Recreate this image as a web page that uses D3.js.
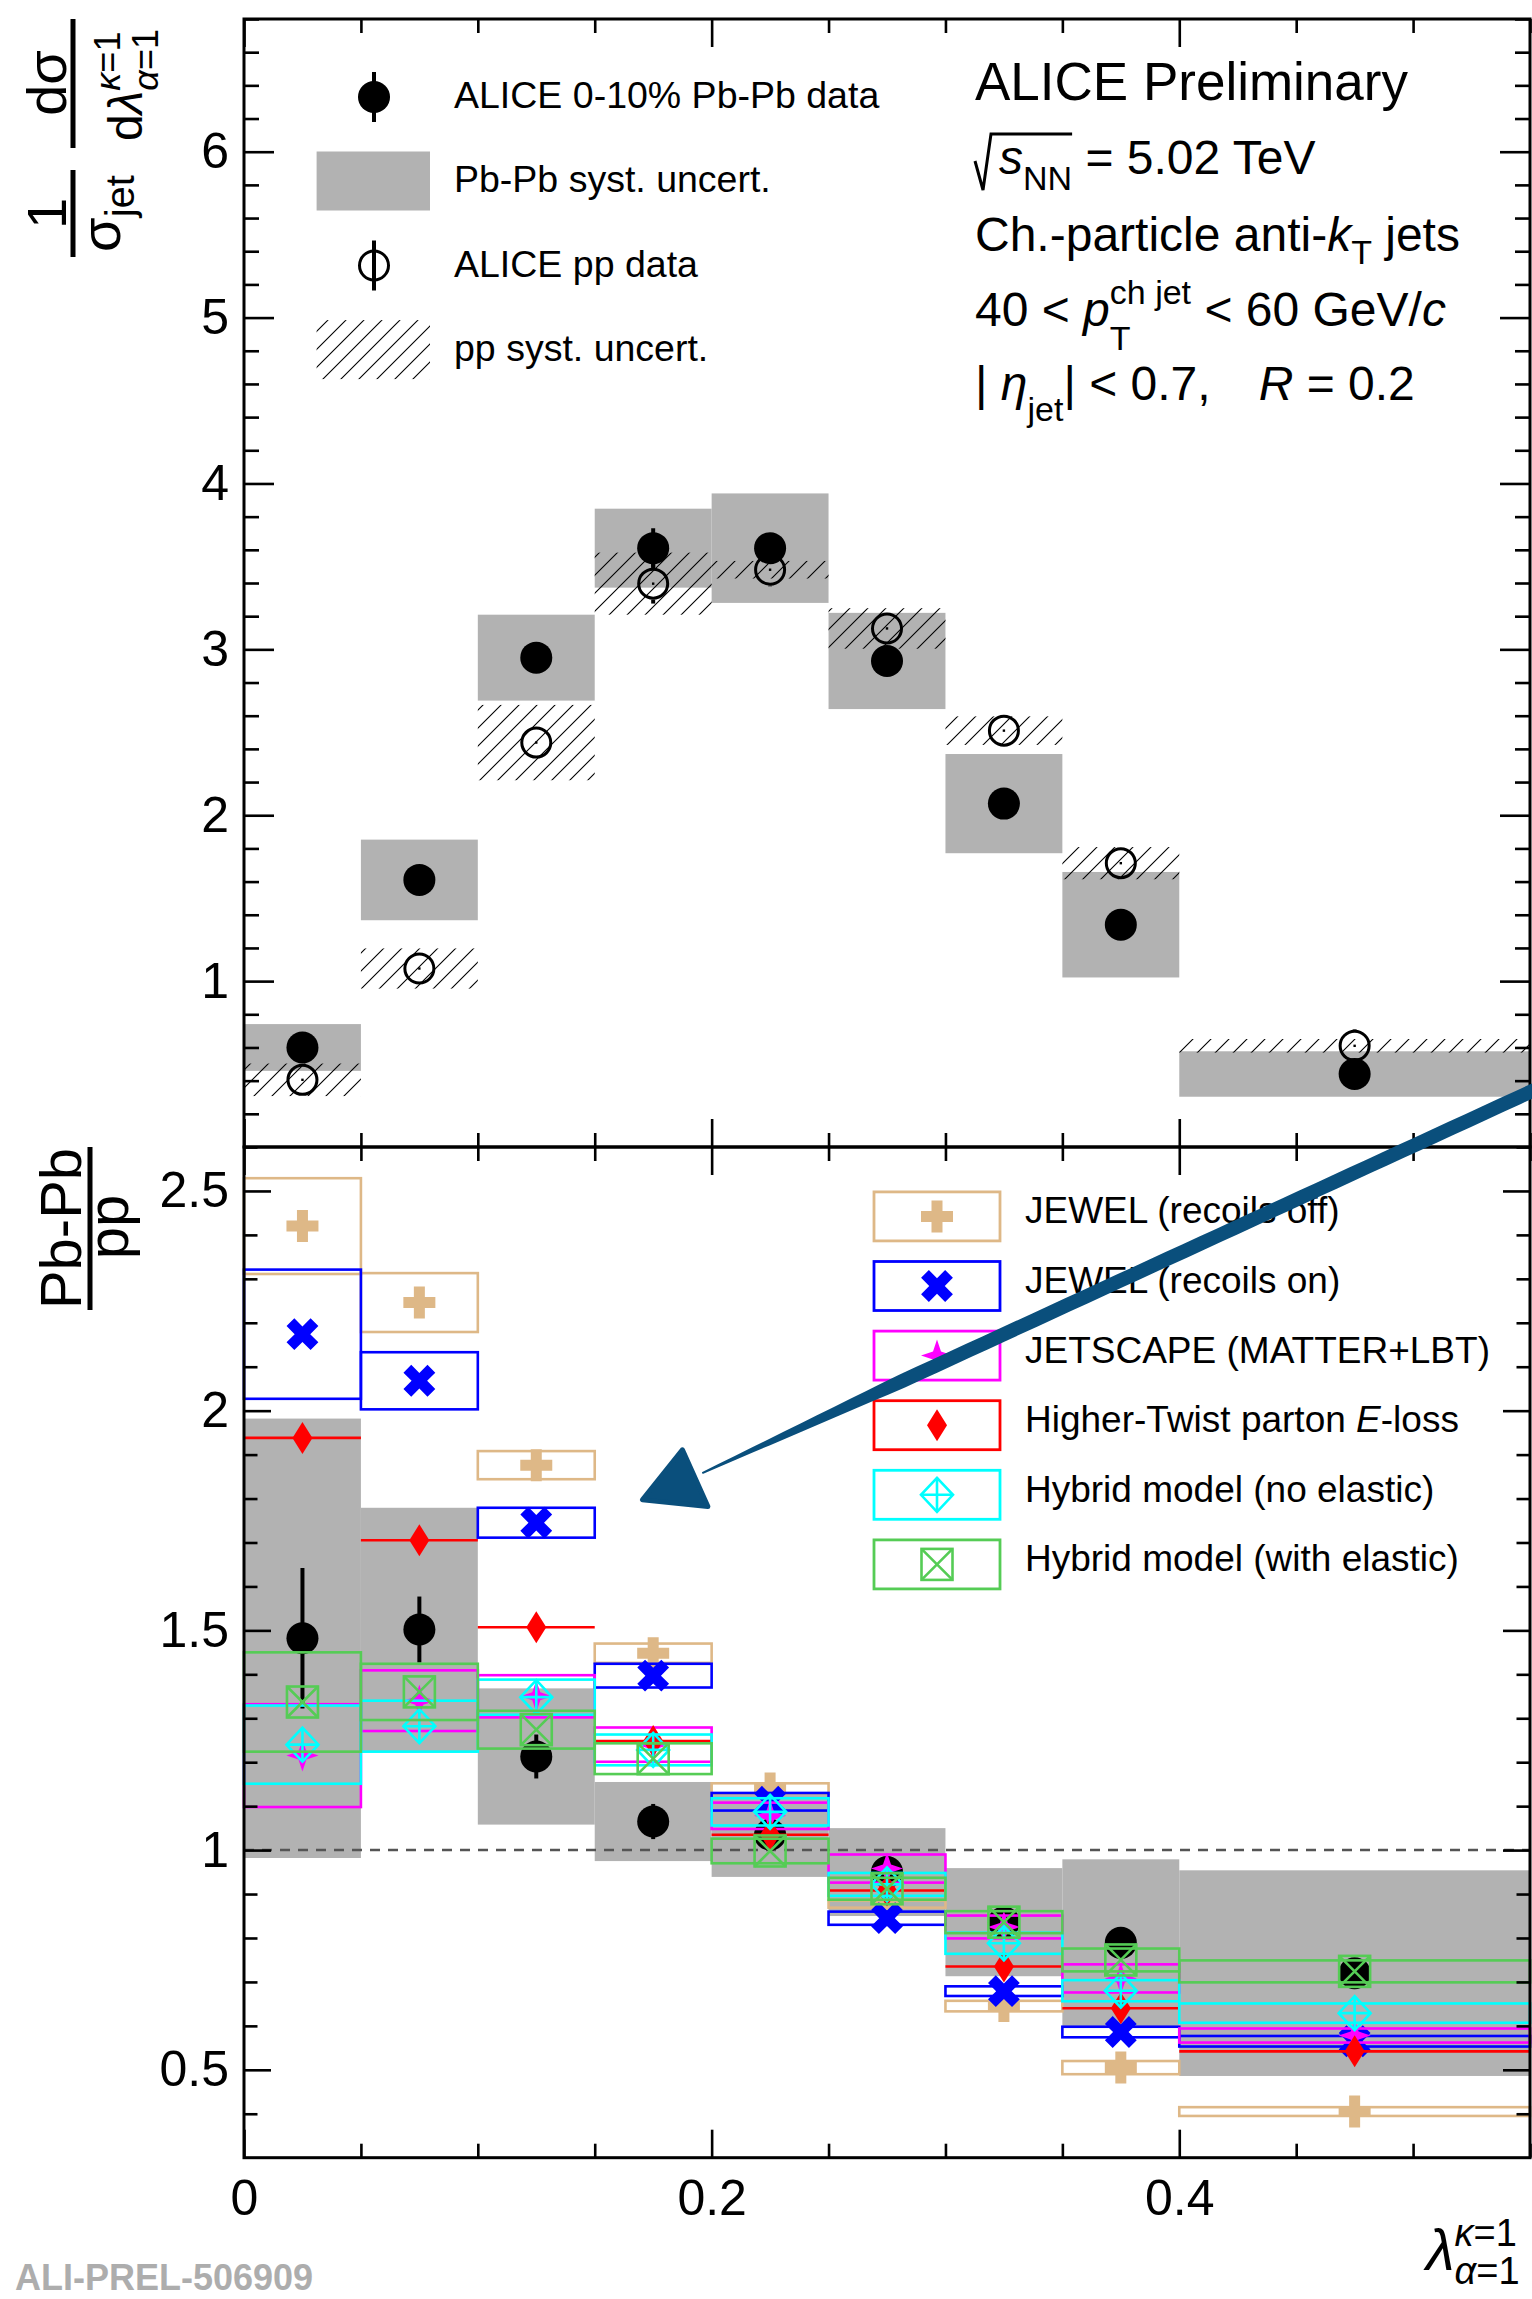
<!DOCTYPE html>
<html>
<head>
<meta charset="utf-8">
<script src="https://cdn.jsdelivr.net/npm/d3@7"></script>
<style>
  html, body { margin: 0; padding: 0; background: #fff; }
  svg { display: block; }
  text { font-family: "Liberation Sans", Arial, Helvetica, sans-serif; white-space: pre; }
</style>
</head>
<body>
<svg id="chart" width="1532" height="2299"></svg>
<script>
// ---------- binning of the jet angularity ----------
const binEdges = [0, 0.05, 0.10, 0.15, 0.20, 0.25, 0.30, 0.35, 0.40, 0.55];

// ---------- normalised distributions (upper panel) ----------
const pbpbValues = [0.60, 1.61, 2.95, 3.61, 3.61, 2.93, 2.07, 1.34, 0.44];
const pbpbStat   = [0.04, 0.05, 0.06, 0.12, 0.08, 0.06, 0.05, 0.05, 0.04];
const pbpbSyst   = [0.141, 0.243, 0.259, 0.238, 0.33, 0.29, 0.299, 0.318, 0.137];

const ppValues = [0.405, 1.076, 2.438, 3.396, 3.48, 3.126, 2.51, 1.711, 0.61];
const ppStat   = [0.03, 0.04, 0.06, 0.12, 0.10, 0.06, 0.05, 0.05, 0.10];
const ppSyst   = [0.098, 0.121, 0.227, 0.187, 0.053, 0.122, 0.086, 0.097, 0.041];

// ---------- Pb-Pb / pp ratio (lower panel) ----------
const ratioValues = [1.482, 1.502, 1.213, 1.065, 1.035, 0.95, 0.836, 0.789, 0.72];
const ratioStat   = [0.16, 0.075, 0.05, 0.04, 0.025, 0.03, 0.03, 0.035, 0.03];
const ratioSyst   = [0.50, 0.277, 0.155, 0.09, 0.096, 0.10, 0.123, 0.19, 0.234];

// ---------- model predictions of the ratio ----------
const jewelOffValues = [2.42, 2.246, 1.876, 1.448, 1.14, 0.877, 0.645, 0.505, 0.405];
const jewelOffSyst   = [0.109, 0.067, 0.032, 0.022, 0.012, 0.008, 0.012, 0.015, 0.010];
const jewelOnValues  = [2.174, 2.068, 1.745, 1.397, 1.11, 0.845, 0.679, 0.586, 0.565];
const jewelOnSyst    = [0.147, 0.065, 0.034, 0.027, 0.020, 0.015, 0.011, 0.012, 0.012];
const jetscapeValues = [1.215, 1.34, 1.35, 1.24, 1.078, 0.958, 0.825, 0.708, 0.578];
const jetscapeSyst   = [0.117, 0.069, 0.048, 0.039, 0.030, 0.032, 0.026, 0.032, 0.016];
const higherTwistValues = [1.938, 1.705, 1.507, 1.248, 1.035, 0.908, 0.735, 0.64, 0.542];
const higherTwistSyst   = [0, 0, 0, 0, 0, 0, 0, 0, 0];
const hybridNoElValues = [1.24, 1.282, 1.348, 1.228, 1.087, 0.922, 0.788, 0.68, 0.629];
const hybridNoElSyst   = [0.089, 0.058, 0.040, 0.035, 0.031, 0.026, 0.024, 0.024, 0.022];
const hybridElValues = [1.337, 1.36, 1.274, 1.208, 0.998, 0.912, 0.836, 0.75, 0.724];
const hybridElSyst   = [0.113, 0.064, 0.043, 0.035, 0.028, 0.025, 0.025, 0.026, 0.025];

const modelLabels = [
  [["JEWEL (recoils off)", false]],
  [["JEWEL (recoils on)", false]],
  [["JETSCAPE (MATTER+LBT)", false]],
  [["Higher-Twist parton ", false], ["E", true], ["-loss", false]],
  [["Hybrid model (no elastic)", false]],
  [["Hybrid model (with elastic)", false]]
];

// ---------- axis ticks ----------
const topMajorTicks = [1, 2, 3, 4, 5, 6];
const ratioMajorTicks = [0.5, 1, 1.5, 2, 2.5];
const xMajorTicks = [0, 0.2, 0.4];

// ---------- annotation arrow anchors (x, ratio units) ----------
const arrowTail = [0.552, 2.73];
const arrowNeck = [0.196, 1.858];
const arrowHead = [[0.1875, 1.911], [0.1704, 1.797], [0.1984, 1.782]];

// ================= drawing =================
const svg = d3.select("#chart");
const FONT = '"Liberation Sans", Arial, Helvetica, sans-serif';

const x = d3.scaleLinear().domain([0, 0.55]).range([244, 1530]);
const yTop = d3.scaleLinear().domain([0, 6.8]).range([1147, 19]);
const yLow = d3.scaleLinear().domain([0.3, 2.6]).range([2157.7, 1147]);

const bins = d3.range(binEdges.length - 1).map(i => ({
  lo: binEdges[i], hi: binEdges[i + 1], c: (binEdges[i] + binEdges[i + 1]) / 2, i
}));

const GRAY = "#b2b2b2";
const models = [
  { values: jewelOffValues, syst: jewelOffSyst, color: "#deb887", marker: "plus" },
  { values: jewelOnValues, syst: jewelOnSyst, color: "#0000ff", marker: "cross" },
  { values: jetscapeValues, syst: jetscapeSyst, color: "#ff00ff", marker: "star4" },
  { values: higherTwistValues, syst: higherTwistSyst, color: "#ff0000", marker: "diamond" },
  { values: hybridNoElValues, syst: hybridNoElSyst, color: "#00ffff", marker: "openDiamondPlus" },
  { values: hybridElValues, syst: hybridElSyst, color: "#55cc55", marker: "openSquareX" }
];

// hatch pattern for the pp systematic uncertainty
const defs = svg.append("defs");
const hatch = defs.append("pattern")
  .attr("id", "hatch").attr("patternUnits", "userSpaceOnUse")
  .attr("width", 18).attr("height", 18);
hatch.append("path")
  .attr("d", "M-2,2 L2,-2 M0,18 L18,0 M16,20 L20,16")
  .attr("stroke", "#000").attr("stroke-width", 1.1).attr("fill", "none");

// ---- rich text helper: parts laid out one after another ----
function rich(g, x0, y0, parts) {
  let cx = x0, stackX = null, stackW = 0;
  parts.forEach(p => {
    const t = g.append("text")
      .attr("x", stackX !== null ? stackX : cx)
      .attr("y", y0 + (p.dy || 0))
      .attr("font-size", p.fs)
      .attr("font-family", FONT)
      .attr("xml:space", "preserve")
      .attr("fill", p.fill || "#000");
    const segs = typeof p.t === "string" ? [[p.t, !!p.it]] : p.t;
    segs.forEach(s => t.append("tspan").attr("font-style", s[1] ? "italic" : "normal").text(s[0]));
    const w = t.node().getComputedTextLength();
    if (p.stack) { stackX = cx; stackW = w; }
    else if (stackX !== null) { cx = stackX + Math.max(w, stackW); stackX = null; stackW = 0; }
    else cx += w;
    if (p.gap) cx += p.gap;
  });
  return cx;
}
function richCentered(g, cx, y0, parts) {
  const sub = g.append("g");
  const w = rich(sub, 0, y0, parts);
  sub.attr("transform", `translate(${cx - w / 2},0)`);
  return sub;
}

// ---- marker shapes ----
function plusPoints(L, w) {
  return [[-w, -L], [w, -L], [w, -w], [L, -w], [L, w], [w, w], [w, L], [-w, L], [-w, w], [-L, w], [-L, -w], [-w, -w]];
}
const line = d3.line();
function drawMarker(g, type, cx, cy, color) {
  const m = g.append("g").attr("transform", `translate(${cx},${cy})`);
  switch (type) {
    case "plus":
      m.append("path").attr("d", line(plusPoints(16, 5.5)) + "Z").attr("fill", color);
      break;
    case "cross":
      m.append("path").attr("d", line(plusPoints(17, 5.5)) + "Z").attr("fill", color).attr("transform", "rotate(45)");
      break;
    case "star4":
      m.append("path").attr("d", line([[0, -16], [4, -4], [16, 0], [4, 4], [0, 16], [-4, 4], [-16, 0], [-4, -4]]) + "Z").attr("fill", color);
      break;
    case "diamond":
      m.append("path").attr("d", line([[0, -16], [10, 0], [0, 16], [-10, 0]]) + "Z").attr("fill", color);
      break;
    case "openDiamondPlus":
      m.append("path").attr("d", line([[0, -17], [16, 0], [0, 17], [-16, 0]]) + "Z")
        .attr("fill", "none").attr("stroke", color).attr("stroke-width", 2.6);
      m.append("path").attr("d", "M0,-17V17M-16,0H16")
        .attr("fill", "none").attr("stroke", color).attr("stroke-width", 2.6);
      break;
    case "openSquareX":
      m.append("rect").attr("x", -15.5).attr("y", -15.5).attr("width", 31).attr("height", 31)
        .attr("fill", "none").attr("stroke", color).attr("stroke-width", 2.6);
      m.append("path").attr("d", "M-15.5,-15.5L15.5,15.5M15.5,-15.5L-15.5,15.5")
        .attr("fill", "none").attr("stroke", color).attr("stroke-width", 2.6);
      break;
  }
}
const R_OPEN = 14.5;
function fullCircle(g, cx, cy) {
  g.append("circle").attr("cx", cx).attr("cy", cy).attr("r", 16).attr("fill", "#000");
}
function openCircle(g, cx, cy) {
  g.append("circle").attr("cx", cx).attr("cy", cy).attr("r", R_OPEN)
    .attr("fill", "none").attr("stroke", "#000").attr("stroke-width", 3);
  g.append("rect").attr("x", cx - 1.2).attr("y", cy - 1.2).attr("width", 2.4).attr("height", 2.4).attr("fill", "#000");
}
// vertical error bar; with a gap it is only drawn outside the marker
function errBar(g, cx, yHi, yLo, gap, cy) {
  const segs = gap ? [[yHi, Math.min(yLo, cy - gap)], [Math.max(yHi, cy + gap), yLo]] : [[yHi, yLo]];
  segs.forEach(([a, b]) => {
    if (b > a) g.append("line").attr("x1", cx).attr("x2", cx).attr("y1", a).attr("y2", b)
      .attr("stroke", "#000").attr("stroke-width", 4);
  });
}

// ================= upper panel =================
const topPanel = svg.append("g");
// Pb-Pb systematic boxes
topPanel.selectAll("rect.pbsys").data(bins).join("rect")
  .attr("x", b => x(b.lo)).attr("width", b => x(b.hi) - x(b.lo))
  .attr("y", b => yTop(pbpbValues[b.i] + pbpbSyst[b.i]))
  .attr("height", b => yTop(pbpbValues[b.i] - pbpbSyst[b.i]) - yTop(pbpbValues[b.i] + pbpbSyst[b.i]))
  .attr("fill", GRAY);
// pp systematic hatched boxes
topPanel.selectAll("rect.ppsys").data(bins).join("rect")
  .attr("x", b => x(b.lo)).attr("width", b => x(b.hi) - x(b.lo))
  .attr("y", b => yTop(ppValues[b.i] + ppSyst[b.i]))
  .attr("height", b => yTop(ppValues[b.i] - ppSyst[b.i]) - yTop(ppValues[b.i] + ppSyst[b.i]))
  .attr("fill", "url(#hatch)");
// statistical error bars and markers
bins.forEach(b => {
  errBar(topPanel, x(b.c), yTop(pbpbValues[b.i] + pbpbStat[b.i]), yTop(pbpbValues[b.i] - pbpbStat[b.i]));
  errBar(topPanel, x(b.c), yTop(ppValues[b.i] + ppStat[b.i]), yTop(ppValues[b.i] - ppStat[b.i]),
    R_OPEN + 1.5, yTop(ppValues[b.i]));
});
bins.forEach(b => fullCircle(topPanel, x(b.c), yTop(pbpbValues[b.i])));
bins.forEach(b => openCircle(topPanel, x(b.c), yTop(ppValues[b.i])));

// ================= lower panel =================
const lowPanel = svg.append("g");
lowPanel.selectAll("rect.rsys").data(bins).join("rect")
  .attr("x", b => x(b.lo)).attr("width", b => x(b.hi) - x(b.lo))
  .attr("y", b => yLow(ratioValues[b.i] + ratioSyst[b.i]))
  .attr("height", b => yLow(ratioValues[b.i] - ratioSyst[b.i]) - yLow(ratioValues[b.i] + ratioSyst[b.i]))
  .attr("fill", GRAY);
lowPanel.append("line")
  .attr("x1", x(0)).attr("x2", x(0.55)).attr("y1", yLow(1)).attr("y2", yLow(1))
  .attr("stroke", "#555").attr("stroke-width", 2.5).attr("stroke-dasharray", "10,8");
bins.forEach(b => {
  errBar(lowPanel, x(b.c), yLow(ratioValues[b.i] + ratioStat[b.i]), yLow(ratioValues[b.i] - ratioStat[b.i]));
  fullCircle(lowPanel, x(b.c), yLow(ratioValues[b.i]));
});
models.forEach(m => {
  const g = lowPanel.append("g");
  bins.forEach(b => {
    const v = m.values[b.i], s = m.syst[b.i];
    if (s > 0) {
      g.append("rect").attr("x", x(b.lo)).attr("width", x(b.hi) - x(b.lo))
        .attr("y", yLow(v + s)).attr("height", yLow(v - s) - yLow(v + s))
        .attr("fill", "none").attr("stroke", m.color).attr("stroke-width", 2.6);
    } else {
      g.append("line").attr("x1", x(b.lo)).attr("x2", x(b.hi)).attr("y1", yLow(v)).attr("y2", yLow(v))
        .attr("stroke", m.color).attr("stroke-width", 2.6);
    }
    drawMarker(g, m.marker, x(b.c), yLow(v), m.color);
  });
});

// ================= frames and axes =================
function styleAxis(g, width) {
  g.select(".domain").remove();
  g.selectAll(".tick line").attr("stroke", "#000").attr("stroke-width", width || 2.6);
  g.selectAll(".tick text").attr("fill", "#000");
  g.attr("font-family", FONT);
}
function minorValues(lo, hi, step, majors) {
  const out = [];
  for (let v = lo; v <= hi + 1e-9; v += step) {
    const r = Math.round(v * 1000) / 1000;
    if (!majors.some(m => Math.abs(m - r) < 1e-6)) out.push(r);
  }
  return out;
}
const xMinor = minorValues(0.05, 0.55, 0.05, xMajorTicks);
function panelAxes(yScale, majors, minors, yMaj, yMin) {
  const [yb, yt] = yScale.range();
  // left and right, ticks pointing inward
  [[d3.axisRight, x(0)], [d3.axisLeft, x(0.55)]].forEach(([ax, px]) => {
    svg.append("g").attr("transform", `translate(${px},0)`)
      .call(ax(yScale).tickValues(majors).tickSize(yMaj).tickFormat(""))
      .call(g => styleAxis(g));
    svg.append("g").attr("transform", `translate(${px},0)`)
      .call(ax(yScale).tickValues(minors).tickSize(yMin).tickFormat(""))
      .call(g => styleAxis(g));
  });
  // top and bottom, ticks pointing inward
  [[d3.axisBottom, yt], [d3.axisTop, yb]].forEach(([ax, py]) => {
    svg.append("g").attr("transform", `translate(0,${py})`)
      .call(ax(x).tickValues(xMajorTicks).tickSize(28).tickFormat(""))
      .call(g => styleAxis(g));
    svg.append("g").attr("transform", `translate(0,${py})`)
      .call(ax(x).tickValues(xMinor).tickSize(14).tickFormat(""))
      .call(g => styleAxis(g));
  });
  // tick labels
  svg.append("g").attr("transform", `translate(${x(0)},0)`)
    .call(d3.axisLeft(yScale).tickValues(majors).tickSize(0).tickPadding(15).tickFormat(d => String(d)))
    .call(g => { styleAxis(g); g.attr("font-size", 50); });
  // frame
  svg.append("rect").attr("x", x(0)).attr("y", yt).attr("width", x(0.55) - x(0)).attr("height", yb - yt)
    .attr("fill", "none").attr("stroke", "#000").attr("stroke-width", 3);
}
panelAxes(yTop, topMajorTicks, minorValues(0.2, 6.8, 0.2, topMajorTicks), 30, 15);
panelAxes(yLow, ratioMajorTicks, minorValues(0.4, 2.6, 0.1, ratioMajorTicks), 27, 13.5);

svg.append("g").attr("transform", `translate(0,${yLow(0.3)})`)
  .call(d3.axisBottom(x).tickValues(xMajorTicks).tickSize(0).tickPadding(22).tickFormat(d => String(d)))
  .call(g => { styleAxis(g); g.attr("font-size", 50); });

// ---- x-axis title ----
rich(svg, 1426, 2270, [
  { t: "λ", fs: 58, it: true },
  { t: [["κ", true], ["=1", false]], fs: 38, dy: -24, stack: true },
  { t: [["α", true], ["=1", false]], fs: 38, dy: 14 }
]);

// ---- y-axis title, upper panel ----
const yt1 = svg.append("g").attr("transform", "rotate(-90)");
yt1.append("line").attr("x1", -257).attr("x2", -170).attr("y1", 73).attr("y2", 73).attr("stroke", "#000").attr("stroke-width", 5);
richCentered(yt1, -213.5, 66, [{ t: "1", fs: 56 }]);
richCentered(yt1, -213.5, 120, [{ t: "σ", fs: 56 }, { t: "jet", fs: 40, dy: 14 }]);
yt1.append("line").attr("x1", -148).attr("x2", -19).attr("y1", 73).attr("y2", 73).attr("stroke", "#000").attr("stroke-width", 5);
richCentered(yt1, -83, 66, [{ t: "dσ", fs: 56 }]);
richCentered(yt1, -85, 142, [
  { t: [["d", false], ["λ", true]], fs: 48 },
  { t: [["κ", true], ["=1", false]], fs: 36, dy: -22, stack: true },
  { t: [["α", true], ["=1", false]], fs: 36, dy: 16 }
]);

// ---- y-axis title, lower panel ----
const yt2 = svg.append("g").attr("transform", "rotate(-90)");
yt2.append("line").attr("x1", -1310).attr("x2", -1147).attr("y1", 90).attr("y2", 90).attr("stroke", "#000").attr("stroke-width", 5);
richCentered(yt2, -1228.5, 81, [{ t: "Pb-Pb", fs: 58 }]);
richCentered(yt2, -1227, 128, [{ t: "pp", fs: 58 }]);

// ---- upper legend ----
const legTop = svg.append("g");
const legRows = [97, 181, 265.5, 349.6];
errBar(legTop, 374, legRows[0] - 25, legRows[0] + 25);
fullCircle(legTop, 374, legRows[0]);
legTop.append("rect").attr("x", 316.6).attr("y", legRows[1] - 29.5).attr("width", 113.4).attr("height", 59).attr("fill", GRAY);
errBar(legTop, 374, legRows[2] - 25, legRows[2] + 25);
legTop.append("circle").attr("cx", 374).attr("cy", legRows[2]).attr("r", R_OPEN).attr("fill", "none").attr("stroke", "#000").attr("stroke-width", 3);
legTop.append("rect").attr("x", 316.6).attr("y", legRows[3] - 29.5).attr("width", 113.4).attr("height", 59).attr("fill", "url(#hatch)");
const legTopText = ["ALICE 0-10% Pb-Pb data", "Pb-Pb syst. uncert.", "ALICE pp data", "pp syst. uncert."];
legTopText.forEach((t, i) => rich(legTop, 454, legRows[i] + 11, [{ t, fs: 37.5 }]));

// ---- lower legend ----
const legLow = svg.append("g");
models.forEach((m, i) => {
  const cy = 1216.4 + i * 69.6;
  legLow.append("rect").attr("x", 874).attr("y", cy - 24.5).attr("width", 126).attr("height", 49)
    .attr("fill", "none").attr("stroke", m.color).attr("stroke-width", 2.8);
  drawMarker(legLow, m.marker, 937, cy, m.color);
  rich(legLow, 1025, cy + 7, [{ t: modelLabels[i], fs: 37 }]);
});

// ---- collision system and selection ----
const info = svg.append("g");
rich(info, 975, 100, [{ t: "ALICE Preliminary", fs: 53 }]);
const sEnd = rich(info, 999, 174, [{ t: "s", fs: 48, it: true }, { t: "NN", fs: 34, dy: 16 }]);
info.append("path").attr("d", `M975,161 L983,190 L991,134 H${sEnd}`)
  .attr("fill", "none").attr("stroke", "#000").attr("stroke-width", 3).attr("stroke-linejoin", "miter");
rich(info, sEnd, 174, [{ t: " = 5.02 TeV", fs: 48 }]);
rich(info, 975, 251, [
  { t: "Ch.-particle anti-", fs: 48 }, { t: "k", fs: 48, it: true },
  { t: "T", fs: 34, dy: 13 }, { t: " jets", fs: 48 }
]);
rich(info, 975, 326, [
  { t: "40 < ", fs: 48 }, { t: "p", fs: 48, it: true },
  { t: "ch jet", fs: 34, dy: -22, stack: true }, { t: "T", fs: 34, dy: 24 },
  { t: " < 60 GeV/", fs: 48 }, { t: "c", fs: 48, it: true }
]);
rich(info, 975, 400, [
  { t: "| ", fs: 48 }, { t: "η", fs: 48, it: true }, { t: "jet", fs: 34, dy: 21 },
  { t: "| < 0.7,", fs: 48, gap: 48 }, { t: "R", fs: 48, it: true }, { t: " = 0.2", fs: 48 }
]);

// ---- annotation arrow ----
(function () {
  const ARROW = "#0a4f7c";
  const p0 = [x(arrowTail[0]), yLow(arrowTail[1])];
  const p1 = [x(arrowNeck[0]), yLow(arrowNeck[1])];
  const dx = p1[0] - p0[0], dy = p1[1] - p0[1];
  const len = Math.hypot(dx, dy);
  const nx = -dy / len, ny = dx / len;
  const halfW = t => (t < 0.76 ? 7 : 7 - (t - 0.76) / 0.24 * 6);
  const ts = d3.range(0, 1.0001, 0.02);
  const sideA = ts.map(t => [p0[0] + dx * t + nx * halfW(t), p0[1] + dy * t + ny * halfW(t)]);
  const sideB = ts.map(t => [p0[0] + dx * t - nx * halfW(t), p0[1] + dy * t - ny * halfW(t)]).reverse();
  svg.append("path").attr("d", line(sideA.concat(sideB)) + "Z").attr("fill", ARROW);
  svg.append("path").attr("d", line(arrowHead.map(p => [x(p[0]), yLow(p[1])])) + "Z")
    .attr("fill", ARROW).attr("stroke", ARROW).attr("stroke-width", 5).attr("stroke-linejoin", "round");
})();

// ---- preliminary figure tag ----
svg.append("text").attr("x", 15).attr("y", 2290)
  .attr("font-family", '"Liberation Mono", "DejaVu Sans Mono", monospace')
  .attr("font-weight", "bold").attr("font-size", 36).attr("fill", "#adadad")
  .text("ALI-PREL-506909");
</script>
</body>
</html>
